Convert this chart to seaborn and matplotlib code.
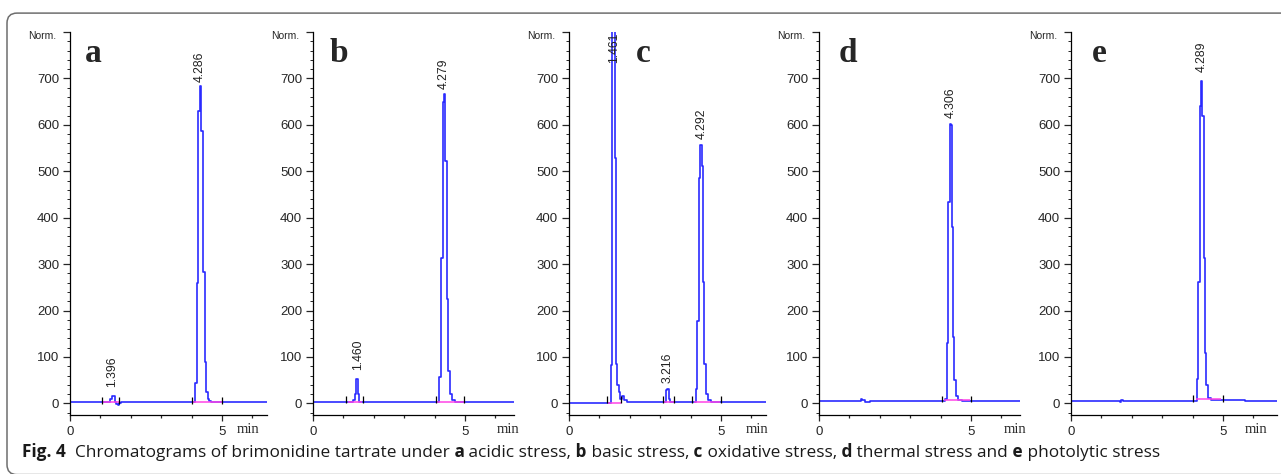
import matplotlib
matplotlib.use('Agg')
import matplotlib.pyplot as plt
import matplotlib.ticker as mticker
import matplotlib.transforms as mtransforms
from matplotlib.patches import FancyBboxPatch
from matplotlib.text import Annotation
import pandas as pd
import seaborn as sns

# chromatogram traces (time in min, signal in Norm.)
time_a = [0.0, 1.30, 1.35, 1.40, 1.45, 1.50, 1.55, 1.60, 1.65, 1.70,
          4.10, 4.15, 4.20, 4.25, 4.30, 4.35, 4.40, 4.45, 4.50, 4.55, 4.60, 4.70, 6.48]
signal_a = [2, 2, 10, 17, 15, 3, -2, -4, 0, 2,
            3, 45, 260, 630, 683, 587, 282, 90, 25, 10, 5, 3, 2]

time_b = [0.0, 1.30, 1.35, 1.40, 1.45, 1.50, 1.55, 1.60,
          4.12, 4.18, 4.23, 4.29, 4.34, 4.37, 4.43, 4.47, 4.54, 4.62, 4.70, 6.6]
signal_b = [3, 3, 8, 20, 53, 20, 4, 3,
            4, 57, 313, 650, 666, 523, 225, 69, 20, 8, 4, 3]

time_c = [0.0, 1.36, 1.39, 1.43, 1.48, 1.52, 1.57, 1.60, 1.66, 1.72, 1.78, 1.86, 1.97,
          3.15, 3.20, 3.25, 3.30, 3.35,
          4.15, 4.19, 4.25, 4.29, 4.34, 4.38, 4.43, 4.47, 4.53, 4.62, 4.75, 6.49]
signal_c = [0, 0, 82, 900, 900, 529, 85, 40, 25, 10, 15, 8, 3,
            3, 28, 30, 10, 3,
            3, 30, 178, 486, 557, 511, 262, 85, 20, 8, 4, 3]

time_d = [0.0, 1.35, 1.40, 1.46, 1.55, 1.62, 1.73,
          4.12, 4.17, 4.22, 4.28, 4.31, 4.35, 4.37, 4.43, 4.47, 4.53, 4.64, 4.75, 6.6]
signal_d = [5, 5, 9, 7, 2, 4, 5,
            6, 10, 130, 434, 602, 600, 380, 144, 50, 15, 8, 6, 5]

time_e = [0.0, 1.60, 1.63, 1.69, 1.76,
          4.11, 4.16, 4.21, 4.27, 4.30, 4.35, 4.38, 4.42, 4.48, 4.54, 4.67, 6.76]
signal_e = [6, 6, 2, 8, 6,
            6, 52, 262, 640, 694, 620, 313, 108, 40, 12, 7, 6]

# retention time labels: text, position (min), bottom of the label (Norm.)
labels_a = ['1.396', '4.286']
label_t_a = [1.40, 4.27]
label_y_a = [35, 692]
labels_b = ['1.460', '4.279']
label_t_b = [1.49, 4.30]
label_y_b = [71, 677]
labels_c = ['1.461', '3.216', '4.292']
label_t_c = [1.47, 3.23, 4.36]
label_y_c = [733, 44, 570]
labels_d = ['4.306']
label_t_d = [4.32]
label_y_d = [615]
labels_e = ['4.289']
label_t_e = [4.29]
label_y_e = [713]

# integration baselines (pink) and start/stop marks
base_start_a = [1.10, 4.00]
base_end_a = [1.62, 5.00]
base_level_a = [2, 2]
base_start_b = [1.15, 4.05]
base_end_b = [1.62, 4.98]
base_level_b = [3, 3]
base_start_c = [1.28, 3.10, 4.10]
base_end_c = [1.72, 3.45, 4.98]
base_level_c = [1, 3, 3]
base_start_d = [4.10]
base_end_d = [4.98]
base_level_d = [8]
base_start_e = [4.10]
base_end_e = [4.95]
base_level_e = [9]

marks_a = [1.04, 1.62, 4.00, 5.00]
marks_b = [1.10, 1.63, 4.03, 4.98]
marks_c = [1.25, 1.72, 3.08, 3.47, 4.05, 5.00]
marks_d = [4.03, 4.99]
marks_e = [4.00, 5.00]

panels = ['a', 'b', 'c', 'd', 'e']
times = [time_a, time_b, time_c, time_d, time_e]
signals = [signal_a, signal_b, signal_c, signal_d, signal_e]
labels = [labels_a, labels_b, labels_c, labels_d, labels_e]
label_ts = [label_t_a, label_t_b, label_t_c, label_t_d, label_t_e]
label_ys = [label_y_a, label_y_b, label_y_c, label_y_d, label_y_e]
base_starts = [base_start_a, base_start_b, base_start_c, base_start_d, base_start_e]
base_ends = [base_end_a, base_end_b, base_end_c, base_end_d, base_end_e]
base_levels = [base_level_a, base_level_b, base_level_c, base_level_d, base_level_e]
marks = [marks_a, marks_b, marks_c, marks_d, marks_e]
mark_levels = [2, 3, 3, 5, 6]

y_ticks = [0, 100, 200, 300, 400, 500, 600, 700, 800]
y_ticklabels = ['0', '100', '200', '300', '400', '500', '600', '700', '']
x_ticks = [0, 5]
x_ticklabels = ['0', '5']

# layout (pixels)
W, H = 1281, 474
px_min = 30.4
ax_left = [70, 313, 569, 819, 1071]
x_max = [6.48, 6.6, 6.49, 6.6, 6.76]
letter_x = [0.075, 0.085, 0.34, 0.10, 0.10]
min_x = [5.86, 6.4, 6.2, 6.45, 6.1]
ax_top, ax_bot = 32, 415

BLUE = '#2a2aff'
PINK = '#ff44e6'

sns.set_style('ticks')
plt.rcParams['font.family'] = ['Liberation Sans', 'DejaVu Sans']

fig = plt.figure(figsize=(W / 100, H / 100), dpi=100)

for i, p in enumerate(panels):
    width = x_max[i] * px_min
    ax = fig.add_axes([ax_left[i] / W, (H - ax_bot) / H, width / W, (ax_bot - ax_top) / H])
    ax.set_facecolor('white')
    df = pd.DataFrame({'time': times[i], 'signal': signals[i]})
    sns.lineplot(data=df, x='time', y='signal', ax=ax, color=BLUE, linewidth=1.2,
                 estimator=None, sort=False, drawstyle='steps-mid')
    ax.hlines(base_levels[i], base_starts[i], base_ends[i], color=PINK, linewidth=1.1, zorder=3)
    ax.vlines(marks[i], mark_levels[i] - 3, mark_levels[i] + 12, color='black', linewidth=0.9, zorder=4)
    for txt, t, y in zip(labels[i], label_ts[i], label_ys[i]):
        ax.text(t, y, txt, rotation=90, ha='center', va='bottom', fontsize=8.8, color='#222222')

    ax.set_xlim(0, x_max[i])
    ax.set_ylim(-25, 800)
    ax.set_xlabel('')
    ax.set_ylabel('')
    for s in ['top', 'right']:
        ax.spines[s].set_visible(False)
    for s in ['left', 'bottom']:
        ax.spines[s].set_linewidth(0.9)
        ax.spines[s].set_color('black')

    ax.set_yticks(y_ticks)
    ax.set_yticklabels(y_ticklabels)
    ax.yaxis.set_minor_locator(mticker.MultipleLocator(20))
    ax.set_xticks(x_ticks)
    ax.set_xticklabels(x_ticklabels)
    ax.xaxis.set_minor_locator(mticker.FixedLocator([1, 2, 3, 4, 6]))
    ax.tick_params(axis='y', which='major', direction='out', length=4.8, width=0.9, pad=3, labelsize=9.5)
    ax.tick_params(axis='y', which='minor', direction='out', length=2.4, width=0.7)
    ax.tick_params(axis='x', which='major', direction='out', length=4.2, width=0.9, pad=4, labelsize=9.5)
    ax.tick_params(axis='x', which='minor', direction='out', length=2.4, width=0.9)

    ax.annotate('Norm.', xy=(0, 1), xycoords='axes fraction', xytext=(-10, -3),
                textcoords='offset points', ha='right', va='center', fontsize=7.5)
    ax.text(letter_x[i], 0.921, p, transform=ax.transAxes, fontsize=24, fontweight='bold',
            family='Liberation Serif', va='baseline', ha='left')
    ax.annotate('min', xy=(min_x[i], 0), xycoords=('data', 'axes fraction'), xytext=(0, -13),
                textcoords='offset points', ha='center', va='baseline',
                family='Liberation Serif', fontsize=10.5)

# rounded frame
frame = FancyBboxPatch((7, -0.6), 1320, 461.5, boxstyle='round,pad=0,rounding_size=10',
                       transform=mtransforms.IdentityTransform(), facecolor='none',
                       edgecolor='#6e6e6e', linewidth=1.1)
fig.patches.append(frame)

# caption
pieces = [('Fig. 4', 'bold'), ('  Chromatograms of brimonidine tartrate under', 'normal'),
          (' a', 'bold'), (' acidic stress,', 'normal'), (' b', 'bold'), (' basic stress,', 'normal'),
          (' c', 'bold'), (' oxidative stress,', 'normal'), (' d', 'bold'),
          (' thermal stress and', 'normal'), (' e', 'bold'), (' photolytic stress', 'normal')]
cap_size = 12.4
prev = fig.text(22 / W, 13 / H, pieces[0][0], fontsize=cap_size, fontweight='bold',
                family='Open Sans', va='bottom', ha='left', color='#1a1a1a')
for s, w in pieces[1:]:
    a = Annotation(s, xy=(1, 0), xycoords=prev, xytext=(0, 0), textcoords='offset points',
                   va='bottom', ha='left', fontsize=cap_size, fontweight=w, family='Open Sans',
                   color='#1a1a1a')
    fig.add_artist(a)
    prev = a

fig.savefig('out.png', dpi=100)
